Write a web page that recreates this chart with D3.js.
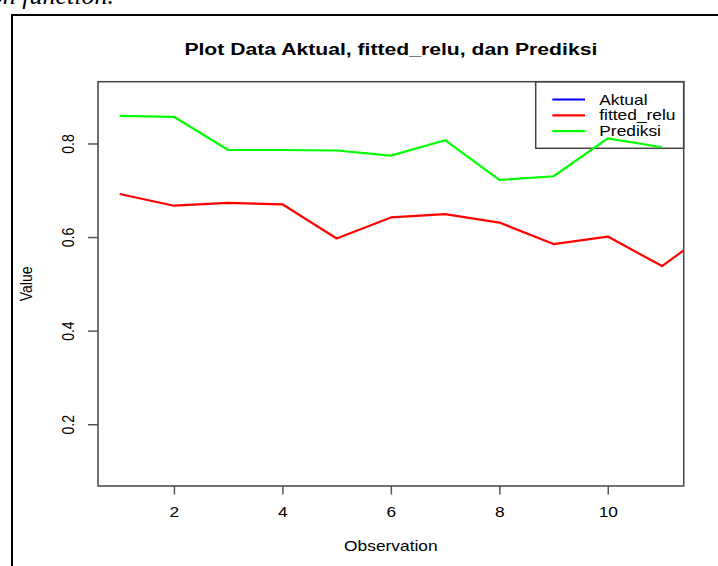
<!DOCTYPE html>
<html>
<head>
<meta charset="utf-8">
<script src="https://cdn.jsdelivr.net/npm/d3@7"></script>
<style>
  body { margin: 0; background: #fff; }
  svg { display: block; }
  text { font-family: "Liberation Sans", Arial, sans-serif; fill: #000; }
</style>
</head>
<body>
<svg id="chart" width="718" height="566"></svg>
<script>
// values
const observation = [1, 2, 3, 4, 5, 6, 7, 8, 9, 10, 11, 12]
const fittedRelu = [0.692, 0.667, 0.673, 0.670, 0.597, 0.642, 0.649, 0.631, 0.585, 0.601, 0.538, 0.622]
const prediksi = [0.859, 0.857, 0.786, 0.786, 0.785, 0.774, 0.807, 0.722, 0.730, 0.811, 0.792]
const xTicks = [2, 4, 6, 8, 10]
const yTicks = [0.2, 0.4, 0.6, 0.8]
const xRange = [0.6, 11.4]
const yRange = [0.068, 0.932]
const legendItems = [
  { label: 'Aktual', color: '#0000ff' },
  { label: 'fitted_relu', color: '#ff0000' },
  { label: 'Prediksi', color: '#00ff00' }
]

// the picture is stretched sideways, text gets the same stretch
const sx = 1.24
const svg = d3.select('#chart')
const margin = { top: 81.7, right: 34.3, bottom: 80, left: 98 }
const width = 718 - margin.left - margin.right
const height = 486 - margin.top

svg.append('rect').attr('width', 718).attr('height', 566).attr('fill', '#fff')

// cut off caption text of the document above the figure
svg.append('text')
  .attr('x', 114).attr('y', 4)
  .attr('text-anchor', 'end')
  .style('font-family', '"Liberation Serif", "Times New Roman", serif')
  .style('font-style', 'italic')
  .style('font-size', '26px')
  .text('activation function.')

// outer frame of the figure
svg.append('rect')
  .attr('x', 12).attr('y', 15)
  .attr('width', 800).attr('height', 700)
  .attr('fill', 'none').attr('stroke', '#000').attr('stroke-width', 2)

const g = svg.append('g').attr('transform', 'translate(' + margin.left + ',' + margin.top + ')')

const x = d3.scaleLinear().domain(xRange).range([0, width])
const y = d3.scaleLinear().domain(yRange).range([height, 0])

// Legend (no fill, lines run across it)
const legend = g.append('g').attr('transform', 'translate(' + (width - 148) + ',0)')
legend.append('rect')
  .attr('width', 148).attr('height', 66.6)
  .attr('fill', 'none').attr('stroke', '#444').attr('stroke-width', 1.5)
const item = legend.selectAll('.item')
  .data(legendItems)
  .enter().append('g')
  .attr('class', 'item')
  .attr('transform', function (d, i) { return 'translate(0,' + (17.8 + i * 15.8) + ')' })
item.append('line')
  .attr('x1', 16.6).attr('x2', 49.3)
  .attr('stroke', function (d) { return d.color })
  .attr('stroke-width', 2.2)
item.append('text')
  .attr('transform', 'translate(63.6,5) scale(' + sx + ',1)')
  .style('font-size', '14px')
  .text(function (d) { return d.label })

g.append('clipPath').attr('id', 'plot-clip')
  .append('rect').attr('width', width).attr('height', height)

const line = d3.line()
  .x(function (d, i) { return x(observation[i]) })
  .y(function (d) { return y(d) })

const series = [
  { values: fittedRelu, color: '#ff0000' },
  { values: prediksi, color: '#00ff00' }
]
g.append('g').attr('clip-path', 'url(#plot-clip)')
  .selectAll('path')
  .data(series)
  .enter().append('path')
  .attr('d', function (d) { return line(d.values) })
  .attr('fill', 'none')
  .attr('stroke', function (d) { return d.color })
  .attr('stroke-width', 2.2)
  .attr('stroke-linejoin', 'round')

// X-axis
const xAxis = g.append('g')
  .attr('transform', 'translate(0,' + height + ')')
  .call(d3.axisBottom(x).tickValues(xTicks).tickSize(8.5).tickSizeOuter(0).tickFormat(d3.format('d')))
xAxis.select('.domain').remove()
xAxis.selectAll('line').attr('stroke', '#555').attr('stroke-width', 1.5)
xAxis.selectAll('text')
  .attr('y', 31.3).attr('dy', null)
  .attr('transform', 'scale(' + sx + ',1)')
  .style('font-size', '14px').attr('fill', '#000')

// Y-axis
const yAxis = g.append('g')
  .call(d3.axisLeft(y).tickValues(yTicks).tickSize(10).tickSizeOuter(0).tickFormat(d3.format('.1f')))
yAxis.select('.domain').remove()
yAxis.selectAll('line').attr('stroke', '#555').attr('stroke-width', 1.5)
yAxis.selectAll('text')
  .attr('x', null).attr('dy', null)
  .attr('text-anchor', 'middle')
  .attr('transform', 'translate(-24,0) rotate(-90) scale(1,' + sx + ')')
  .style('font-size', '14px').attr('fill', '#000')

// plot box
g.append('rect')
  .attr('width', width).attr('height', height)
  .attr('fill', 'none').attr('stroke', '#444').attr('stroke-width', 1.5)

// Title and axis labels
svg.append('text')
  .attr('transform', 'translate(' + (margin.left + width / 2) + ',55) scale(1.26,1)')
  .attr('text-anchor', 'middle')
  .attr('font-weight', 'bold')
  .style('font-size', '16.8px')
  .text('Plot Data Aktual, fitted_relu, dan Prediksi')

svg.append('text')
  .attr('transform', 'translate(' + (margin.left + width / 2) + ',551) scale(' + sx + ',1)')
  .attr('text-anchor', 'middle')
  .style('font-size', '14px')
  .text('Observation')

svg.append('text')
  .attr('transform', 'translate(31.5,' + (margin.top + height / 2) + ') rotate(-90) scale(1,' + sx + ')')
  .attr('text-anchor', 'middle')
  .style('font-size', '14px')
  .text('Value')
</script>
</body>
</html>
